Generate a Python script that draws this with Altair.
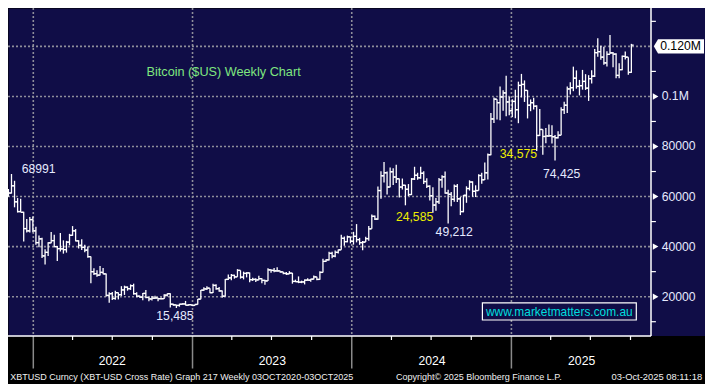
import altair as alt
import pandas as pd

# ------------------------------------------------------------------ data
week_end = pd.date_range("2021-11-05", "2025-10-03", freq="W-FRI")

opens = [
    60900, 61400, 64300, 57900, 54000, 53700, 47200, 46300, 50800,
    46300, 41600, 43100, 36300, 37700, 41500, 42400, 40000, 39200, 39100,
    38800, 41800, 44500, 46300, 42300, 40500, 39700, 38600, 36000, 30000,
    29200, 28600, 29700, 29100, 20500, 21200, 19300, 21600, 20800, 22700,
    23800, 23200, 24400, 21200, 20200, 19800, 21300, 19700, 19100, 19400,
    19500, 19200, 19200, 20600, 21200, 17000, 16700, 16500, 17000, 17100,
    16600, 16800,
    16500, 16900, 19000, 22600, 23100, 23400, 21600, 24500, 23200, 22300,
    20200, 26900, 27500, 28500, 27900, 30500, 27800, 29300, 29500, 26800,
    26900, 26700, 27200, 26500, 26300, 30700, 30500, 30300, 30300, 29900,
    29300, 29100, 29400, 26100, 26000, 25800, 25900, 26600, 26600, 27000,
    27900, 26900, 29700, 34100, 34700, 37300, 36200, 37700, 38700, 43300,
    42000, 43900,
    42100, 44100, 42800, 41600, 41800, 43200, 47100, 52100, 51000, 62400,
    68300, 69500, 63800, 69900, 67800, 67100, 63800, 64500, 62900, 60800,
    67000, 68500, 67500, 69300, 66000, 64100, 60300, 56600, 57900, 66700,
    67900, 61400, 60900, 58900, 64100, 59100, 54000, 60500, 63200, 65800,
    62100, 62400, 68400, 66700, 69500, 76700, 91000, 98900, 97500, 99800,
    101400, 97800,
    94300, 98000, 94700, 104400, 104800, 102400, 96500, 97500, 96100, 84400,
    86800, 84000, 84200, 84300, 83900, 83500, 84500, 94700, 96500, 103000,
    103500, 107300, 104000, 104300, 106000, 103300, 107100, 108100, 117500, 117900,
    115700, 113400, 116800, 117400, 116900, 108400, 110700, 116000, 115700, 109600,
]
highs = [
    63000, 69000, 66300, 59400, 59100, 53900, 51000, 51800, 52000,
    47900, 44400, 43500, 38900, 41700, 45800, 44700, 40200, 45400, 42500,
    42300, 45100, 48200, 47000, 42500, 42900, 40700, 40000, 36100, 31400,
    30600, 32300, 31500, 29300, 21800, 21900, 22400, 21700, 24200, 24400,
    24100, 24900, 25200, 21800, 20500, 21500, 22700, 19900, 20300, 20400,
    19600, 19700, 21000, 21300, 21400, 17200, 16800, 17200, 17400, 18300,
    17000, 16900,
    16900, 19100, 22700, 23800, 24200, 23400, 25200, 25000, 23900, 22500,
    27100, 28900, 29100, 28800, 31000, 30500, 30000, 29800, 29700, 27600,
    27400, 28400, 27400, 26800, 31400, 31000, 31500, 31800, 30400, 30000,
    29900, 30200, 29500, 26800, 28100, 26400, 26900, 27400, 27200, 28500,
    28000, 30200, 35200, 35000, 37900, 37900, 38400, 38800, 44700, 44000,
    44400, 44000,
    45900, 49000, 43500, 42200, 43900, 48200, 52800, 52400, 64000, 70100,
    73800, 70000, 71600, 71300, 72700, 67200, 67200, 64700, 65000, 67400,
    71900, 69500, 71900, 70100, 67300, 64500, 63700, 59400, 67400, 68500,
    70000, 62700, 61800, 64800, 65000, 59800, 60600, 64100, 66500, 66100,
    64500, 68900, 69500, 73600, 77200, 93400, 99600, 98900, 104000, 102500,
    108300, 99900,
    98900, 102700, 105900, 109000, 106400, 102500, 98800, 99500, 96500, 95000,
    86800, 87400, 88800, 88500, 84600, 86100, 95700, 97900, 104000, 105700,
    111900, 110400, 106600, 110600, 108900, 108500, 110500, 118900, 123200, 120200,
    119800, 118000, 124500, 117700, 117200, 113300, 116300, 117900, 115700, 121000,
]
lows = [
    59900, 61200, 55700, 53600, 53700, 42000, 45600, 45600, 45700,
    40700, 39700, 35500, 32900, 36300, 41300, 39700, 34300, 38000, 37200,
    37600, 40500, 44300, 42100, 39200, 38600, 37700, 35600, 25400, 28700,
    28000, 28500, 29000, 20100, 17600, 18700, 18800, 18900, 20300, 20700,
    22400, 22700, 20800, 19800, 19600, 18600, 19400, 18200, 18500, 19100,
    18200, 18900, 19100, 20100, 15700, 16400, 15480, 16000, 16800, 16500,
    16400, 16400,
    16300, 16900, 19000, 22300, 22700, 21400, 21500, 22800, 22000, 19600,
    20100, 26700, 26600, 27200, 27900, 27200, 26900, 27700, 25800, 26300,
    25900, 26600, 25400, 24800, 26300, 29600, 29800, 30000, 29600, 29000,
    28700, 29000, 25200, 25800, 25400, 25400, 24900, 26400, 26000, 26900,
    26600, 26800, 29700, 33900, 34500, 35400, 35800, 37200, 38700, 40300,
    41700, 41300,
    40800, 41700, 40700, 38500, 41800, 42300, 47100, 50600, 50700, 59100,
    65600, 60800, 63700, 64600, 65400, 59600, 62800, 56500, 60200, 60600,
    66600, 66700, 67100, 65000, 63400, 58400, 53500, 54300, 57000, 63500,
    61100, 49200, 56100, 57900, 57800, 52600, 53700, 57500, 62400, 59900,
    59800, 62400, 65100, 66600, 66800, 76500, 89400, 90800, 90500, 94300,
    92100, 92500,
    91800, 91300, 89300, 99600, 97800, 91200, 94100, 94800, 78200, 84200,
    76700, 81300, 83800, 81200, 74400, 83200, 84500, 93000, 93400, 100800,
    102100, 103100, 100400, 102700, 102600, 98200, 105200, 107800, 115900, 114700,
    112700, 112000, 116800, 111700, 107300, 107300, 110500, 114800, 108700, 109400,
]
closes = [
    61400, 64300, 57900, 54000, 53700, 47200, 46300, 50800, 46300,
    41600, 43100, 36300, 37700, 41500, 42400, 40000, 39200, 39100, 38800,
    41800, 44500, 46300, 42300, 40500, 39700, 38600, 36000, 30000, 29200,
    28600, 29700, 29100, 20500, 21200, 19300, 21600, 20800, 22700, 23800,
    23200, 24400, 21200, 20200, 19800, 21300, 19700, 19100, 19400, 19500,
    19200, 19200, 20600, 21200, 17000, 16700, 16500, 17000, 17100, 16600,
    16800, 16500,
    16900, 19000, 22600, 23100, 23400, 21600, 24500, 23200, 22300, 20200,
    26900, 27500, 28500, 27900, 30500, 27800, 29300, 29500, 26800, 26900,
    26700, 27200, 26500, 26300, 30700, 30500, 30300, 30300, 29900, 29300,
    29100, 29400, 26100, 26000, 25800, 25900, 26600, 26600, 27000, 27900,
    26900, 29700, 34100, 34700, 37300, 36200, 37700, 38700, 43300, 42000,
    43900, 42100,
    44100, 42800, 41600, 41800, 43200, 47100, 52100, 51000, 62400, 68300,
    69500, 63800, 69900, 67800, 67100, 63800, 64500, 62900, 60800, 67000,
    68500, 67500, 69300, 66000, 64100, 60300, 56600, 57900, 66700, 67900,
    61400, 60900, 58900, 64100, 59100, 54000, 60500, 63200, 65800, 62100,
    62400, 68400, 66700, 69500, 76700, 91000, 98900, 97500, 99800, 101400,
    97800, 94300,
    98000, 94700, 104400, 104800, 102400, 96500, 97500, 96100, 84400, 86800,
    84000, 84200, 84300, 83900, 83500, 84500, 94700, 96500, 103000, 103500,
    107300, 104000, 104300, 106000, 103300, 107100, 108100, 117500, 117900, 115700,
    113400, 116800, 117400, 116900, 108400, 110700, 116000, 115700, 109600, 120500,
]

grid_values = [20000, 40000, 60000, 80000, 100000, 120000]
axis_values = [20000, 40000, 60000, 80000, 100000]
axis_texts = ["20000", "40000", "60000", "80000", "0.1M"]
minor_values = [10000, 30000, 50000, 70000, 90000, 110000, 130000]
last_value = 120000
last_text = "0.120M"

year_starts = ["2022-01-01", "2023-01-01", "2024-01-01", "2025-01-01"]
year_names = ["2022", "2023", "2024", "2025"]
year_label_at = ["2022-07-01", "2023-07-03", "2024-07-03", "2025-06-11"]
quarter_starts = [
    "2022-04-01", "2022-07-01", "2022-10-01", "2023-04-01", "2023-07-01", "2023-10-01",
    "2024-04-01", "2024-07-01", "2024-10-01", "2025-04-01", "2025-07-01", "2025-10-01",
]

# annotations: text, anchor date, anchor value, colour, dx, dy, align
ann_texts = ["68991", "15,485", "49,212", "74,425", "24,585", "34,575"]
ann_dates = ["2021-11-12", "2022-11-25", "2024-08-09", "2025-04-11", "2024-05-24", "2025-01-17"]
ann_values = [68991, 15485, 49212, 74425, 51686, 76973]
ann_colors = ["#e6eaff", "#e6eaff", "#e6eaff", "#e6eaff", "#eeee00", "#eeee00"]
ann_dx = [10.2, -1.4, 6.1, 6.6, 0, 0]
ann_dy = [-4.9, 8.5, 8.8, 13.4, 0, 0]
ann_align = ["left", "center", "center", "center", "center", "center"]

title_text = "Bitcoin ($US) Weekly Chart"
site_text = "www.marketmatters.com.au"
footer_left = "XBTUSD Curncy (XBT-USD Cross Rate) Graph 217 Weekly 03OCT2020-03OCT2025"
footer_mid = "Copyright\u00a9 2025 Bloomberg Finance L.P."
footer_right = "03-Oct-2025 08:11:18"

# ------------------------------------------------------------------ layout
TOTAL_W, TOTAL_H = 697, 376
W, H = 643, 328
NAVY = "#100d47"
GRID = "#8e8e9a"
WHITE = "#ffffff"
LABEL = "#e6eaff"
FONT = "Liberation Sans, Arial, Helvetica, sans-serif"

xscale = alt.Scale(domain=[alt.DateTime(year=2021, month=11, date=4),
                           alt.DateTime(year=2025, month=11, date=17)],
                   range=[0, W], nice=False)
yscale = alt.Scale(domain=[4291, 135326], range=[H, 0], nice=False, zero=False)

ohlc = pd.DataFrame({"date": week_end, "open": opens, "high": highs,
                     "low": lows, "close": closes})
one = pd.DataFrame({"k": [0]})


def X(field):
    return alt.X(field, type="temporal", scale=xscale, axis=None)


def Y(field):
    return alt.Y(field, type="quantitative", scale=yscale, axis=None)


layers = []

# navy strip behind right axis
layers.append(alt.Chart(one).mark_rect(color=NAVY).encode(
    x=alt.value(W), x2=alt.value(TOTAL_W), y=alt.value(0), y2=alt.value(H)))

# grids
layers.append(alt.Chart(pd.DataFrame({"v": grid_values})).mark_rule(
    color=GRID, strokeWidth=1.6, strokeDash=[2, 2]).encode(
    y=Y("v"), x=alt.value(0), x2=alt.value(W)))
ys = pd.DataFrame({"d": pd.to_datetime(year_starts)})
layers.append(alt.Chart(ys).mark_rule(
    color=GRID, strokeWidth=1.6, strokeDash=[2, 2]).encode(
    x=X("d"), y=alt.value(0), y2=alt.value(H)))
# separators in the date band
layers.append(alt.Chart(ys).mark_rule(color="#8a8a8a", strokeWidth=1.5).encode(
    x=X("d"), y=alt.value(H), y2=alt.value(360.5)))

# axis lines and ticks
layers.append(alt.Chart(one).mark_rule(color=WHITE, strokeWidth=1.5).encode(
    x=alt.value(0), x2=alt.value(W), y=alt.value(H)))
layers.append(alt.Chart(one).mark_rule(color=WHITE, strokeWidth=1.5).encode(
    x=alt.value(W), y=alt.value(0), y2=alt.value(H)))
layers.append(alt.Chart(pd.DataFrame({"d": pd.to_datetime(quarter_starts)})).mark_rule(
    color=WHITE, strokeWidth=1.2).encode(x=X("d"), y=alt.value(H), y2=alt.value(H + 4)))
layers.append(alt.Chart(pd.DataFrame({"v": minor_values})).mark_rule(
    color=WHITE, strokeWidth=1.2).encode(y=Y("v"), x=alt.value(W), x2=alt.value(W + 4.9)))
layers.append(alt.Chart(pd.DataFrame({"v": axis_values})).mark_point(
    shape="triangle-right", filled=True, color=WHITE, size=42, opacity=1).encode(
    y=Y("v"), x=alt.value(W + 4.6)))
layers.append(alt.Chart(pd.DataFrame({"v": axis_values, "t": axis_texts})).mark_text(
    align="left", baseline="middle", font=FONT, fontSize=12.2, color=LABEL).encode(
    y=Y("v"), x=alt.value(W + 10.7), text="t:N"))

# last-price tag
layers.append(alt.Chart(pd.DataFrame({"v": [last_value]})).mark_point(
    shape="M-1,0L-0.832,-0.287L1,-0.287L1,0.287L-0.832,0.287Z", filled=True,
    color=WHITE, size=2515, opacity=1).encode(y=Y("v"), x=alt.value(670.9)))
layers.append(alt.Chart(pd.DataFrame({"v": [last_value], "t": [last_text]})).mark_text(
    align="left", baseline="middle", font=FONT, fontSize=12.2, color="#000000").encode(
    y=Y("v"), x=alt.value(652.2), text="t:N"))

# OHLC bars
base = alt.Chart(ohlc)
layers.append(base.mark_rule(color=WHITE, strokeWidth=1.3).encode(
    x=X("date"), y=Y("low"), y2=alt.Y2("high")))
layers.append(base.mark_rule(color=WHITE, strokeWidth=1.3, xOffset=-2.3, x2Offset=0).encode(
    x=X("date"), x2=alt.X2("date"), y=Y("open")))
layers.append(base.mark_rule(color=WHITE, strokeWidth=1.3, xOffset=0, x2Offset=2.3).encode(
    x=X("date"), x2=alt.X2("date"), y=Y("close")))

# annotations
for t, d, v, c, dx, dy, al in zip(ann_texts, ann_dates, ann_values, ann_colors,
                                   ann_dx, ann_dy, ann_align):
    layers.append(alt.Chart(pd.DataFrame({"d": [pd.Timestamp(d)], "v": [v], "t": [t]})).mark_text(
        align=al, baseline="middle", dx=dx, dy=dy, font=FONT, fontSize=12.2, color=c).encode(
        x=X("d"), y=Y("v"), text="t:N"))

layers.append(alt.Chart(pd.DataFrame({"t": [title_text]})).mark_text(
    align="left", baseline="middle", font=FONT, fontSize=12.7, color="#7fe67f").encode(
    x=alt.value(138.5), y=alt.value(64.3), text="t:N"))

# website box
layers.append(alt.Chart(one).mark_rect(fill=NAVY, stroke=WHITE, strokeWidth=1.2).encode(
    x=alt.value(474.4), x2=alt.value(628.3), y=alt.value(294.8), y2=alt.value(312.0)))
layers.append(alt.Chart(pd.DataFrame({"t": [site_text]})).mark_text(
    align="center", baseline="middle", font=FONT, fontSize=11.9, color="#00dede").encode(
    x=alt.value(551.3), y=alt.value(303.6), text="t:N"))

# year labels
layers.append(alt.Chart(pd.DataFrame({"d": pd.to_datetime(year_label_at), "t": year_names})).mark_text(
    align="center", baseline="middle", font=FONT, fontSize=12.2, color=WHITE).encode(
    x=X("d"), y=alt.value(352.6), text="t:N"))

# footer
layers.append(alt.Chart(pd.DataFrame({"t": [footer_left]})).mark_text(
    align="left", baseline="middle", font=FONT, fontSize=9.0, color="#f0f0f0").encode(
    x=alt.value(2.2), y=alt.value(369.3), text="t:N"))
layers.append(alt.Chart(pd.DataFrame({"t": [footer_mid]})).mark_text(
    align="left", baseline="middle", font=FONT, fontSize=9.0, color="#f0f0f0").encode(
    x=alt.value(388.1), y=alt.value(369.3), text="t:N"))
layers.append(alt.Chart(pd.DataFrame({"t": [footer_right]})).mark_text(
    align="right", baseline="middle", font=FONT, fontSize=9.4, color="#f0f0f0").encode(
    x=alt.value(694.1), y=alt.value(369.3), text="t:N"))

chart = alt.layer(*layers).properties(
    width=W, height=H, background="#000000",
    padding={"left": 0, "top": 0, "right": TOTAL_W - W, "bottom": TOTAL_H - H},
    autosize=alt.AutoSizeParams(type="none"),
).configure_view(fill=NAVY, stroke="transparent")

chart.save("out.html", embed_options={"renderer": "svg", "actions": False})
